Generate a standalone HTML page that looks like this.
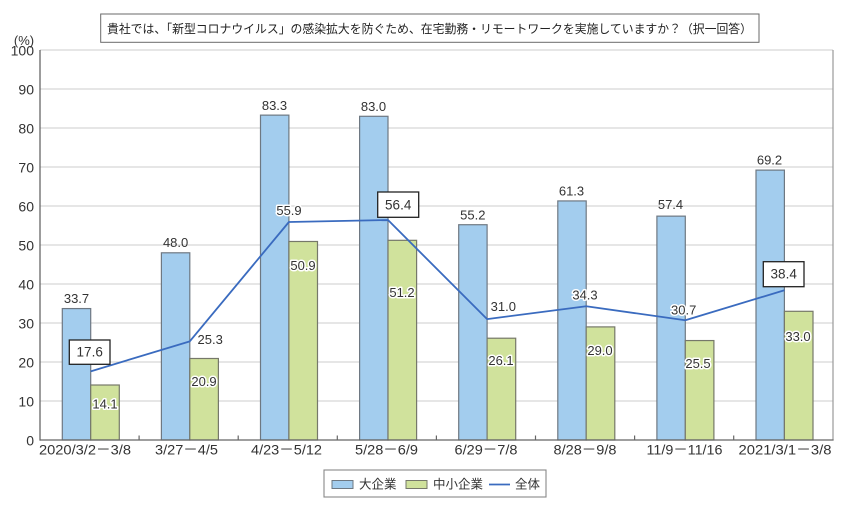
<!DOCTYPE html>
<html><head><meta charset="utf-8">
<style>
html,body{margin:0;padding:0;background:#fff;}
svg{display:block;}
text{font-family:"Liberation Sans","Noto Sans CJK JP",sans-serif;fill:#333;}
.v{font-size:13px;text-anchor:middle;}
.h{stroke:#fff;stroke-width:3px;paint-order:stroke;stroke-linejoin:round;}
.yl{font-size:14px;text-anchor:end;}
.xl{font-size:14px;text-anchor:middle;}
.lg{font-size:12.5px;}
</style></head>
<body>
<svg width="848" height="512" viewBox="0 0 848 512" xmlns="http://www.w3.org/2000/svg">
<rect width="848" height="512" fill="#fff"/>
<!-- title -->
<rect x="100.7" y="14" width="658.3" height="28.3" fill="#fff" stroke="#6a6a6a" stroke-width="1"/>
<text x="107" y="33" font-size="12px" textLength="645" lengthAdjust="spacingAndGlyphs" style="fill:#222">貴社では、「新型コロナウイルス」の感染拡大を防ぐため、在宅勤務・リモートワークを実施していますか？（択一回答）</text>

<!-- gridlines -->
<g stroke="#d6d6d6" stroke-width="1.3">
<line x1="40" y1="50" x2="833" y2="50"/>
<line x1="40" y1="89" x2="833" y2="89"/>
<line x1="40" y1="128" x2="833" y2="128"/>
<line x1="40" y1="167" x2="833" y2="167"/>
<line x1="40" y1="206" x2="833" y2="206"/>
<line x1="40" y1="245" x2="833" y2="245"/>
<line x1="40" y1="284" x2="833" y2="284"/>
<line x1="40" y1="323" x2="833" y2="323"/>
<line x1="40" y1="362" x2="833" y2="362"/>
<line x1="40" y1="401" x2="833" y2="401"/>
</g>
<line x1="833" y1="50" x2="833" y2="440" stroke="#9a9a9a" stroke-width="1.2"/>

<!-- y labels -->
<text x="24" y="45" font-size="13px" text-anchor="middle">(%)</text>
<text class="yl" x="34" y="55.5">100</text>
<text class="yl" x="34" y="94.5">90</text>
<text class="yl" x="34" y="133.5">80</text>
<text class="yl" x="34" y="172.5">70</text>
<text class="yl" x="34" y="211.5">60</text>
<text class="yl" x="34" y="250.5">50</text>
<text class="yl" x="34" y="289.5">40</text>
<text class="yl" x="34" y="328.5">30</text>
<text class="yl" x="34" y="367.5">20</text>
<text class="yl" x="34" y="406.5">10</text>
<text class="yl" x="34" y="445.5">0</text>

<!-- blue bars -->
<g fill="#a3cdee" stroke="#6e7882" stroke-width="1.2">
<rect x="62.3" y="308.57" width="28.4" height="131.43"/>
<rect x="161.4" y="252.8" width="28.4" height="187.2"/>
<rect x="260.5" y="115.13" width="28.4" height="324.87"/>
<rect x="359.6" y="116.3" width="28.4" height="323.7"/>
<rect x="458.7" y="224.72" width="28.4" height="215.28"/>
<rect x="557.8" y="200.93" width="28.4" height="239.07"/>
<rect x="656.9" y="216.14" width="28.4" height="223.86"/>
<rect x="756.0" y="170.12" width="28.4" height="269.88"/>
</g>
<!-- green bars -->
<g fill="#d0e29c" stroke="#76786a" stroke-width="1.2">
<rect x="90.7" y="385.01" width="28.6" height="54.99"/>
<rect x="189.8" y="358.49" width="28.6" height="81.51"/>
<rect x="288.9" y="241.49" width="28.6" height="198.51"/>
<rect x="388.0" y="240.32" width="28.6" height="199.68"/>
<rect x="487.1" y="338.21" width="28.6" height="101.79"/>
<rect x="586.2" y="326.9" width="28.6" height="113.1"/>
<rect x="685.3" y="340.55" width="28.6" height="99.45"/>
<rect x="784.4" y="311.3" width="28.6" height="128.7"/>
</g>

<!-- axes -->
<line x1="40" y1="50" x2="40" y2="440.6" stroke="#666" stroke-width="1.3"/>
<line x1="40" y1="440" x2="833.6" y2="440" stroke="#666" stroke-width="1.3"/>
<g stroke="#666" stroke-width="1.2">
<line x1="139.1" y1="435.5" x2="139.1" y2="440"/>
<line x1="238.2" y1="435.5" x2="238.2" y2="440"/>
<line x1="337.3" y1="435.5" x2="337.3" y2="440"/>
<line x1="436.4" y1="435.5" x2="436.4" y2="440"/>
<line x1="535.5" y1="435.5" x2="535.5" y2="440"/>
<line x1="634.6" y1="435.5" x2="634.6" y2="440"/>
<line x1="733.7" y1="435.5" x2="733.7" y2="440"/>
</g>

<!-- line series -->
<polyline fill="none" stroke="#3a6bbf" stroke-width="1.8" stroke-linejoin="round"
 points="90.7,371.36 189.8,341.33 288.9,221.99 388.0,220.04 487.1,319.1 586.2,306.23 685.3,320.27 784.4,290.24"/>

<!-- blue labels -->
<text class="v" x="76.5" y="302.8">33.7</text>
<text class="v" x="175.6" y="247">48.0</text>
<text class="v" x="274.5" y="109.8">83.3</text>
<text class="v" x="373.5" y="110.8">83.0</text>
<text class="v" x="472.8" y="219.6">55.2</text>
<text class="v" x="571.5" y="195.5">61.3</text>
<text class="v" x="670.5" y="208.8">57.4</text>
<text class="v" x="769.5" y="164.3">69.2</text>

<!-- green labels -->
<text class="v h" x="105" y="408.5">14.1</text>
<text class="v h" x="204" y="386">20.9</text>
<text class="v h" x="303" y="270">50.9</text>
<text class="v h" x="402" y="297">51.2</text>
<text class="v h" x="501" y="365">26.1</text>
<text class="v h" x="600" y="355">29.0</text>
<text class="v h" x="698" y="368">25.5</text>
<text class="v h" x="798" y="341">33.0</text>

<!-- line labels -->
<text class="v h" x="210.2" y="344">25.3</text>
<text class="v h" x="289" y="215">55.9</text>
<text class="v h" x="503.3" y="311">31.0</text>
<text class="v h" x="585" y="299.5">34.3</text>
<text class="v h" x="683.7" y="314.5">30.7</text>

<!-- boxed labels -->
<rect x="69.3" y="340" width="40.7" height="24.3" fill="#fff" stroke="#222" stroke-width="1.3"/>
<text class="v" x="89.7" y="356.7" style="font-size:13.5px">17.6</text>
<rect x="377.7" y="192" width="41" height="25.3" fill="#fff" stroke="#222" stroke-width="1.3"/>
<text class="v" x="398.2" y="209.5" style="font-size:13.5px">56.4</text>
<rect x="763.3" y="261.7" width="40.7" height="25" fill="#fff" stroke="#222" stroke-width="1.3"/>
<text class="v" x="783.7" y="278.7" style="font-size:13.5px">38.4</text>

<!-- x labels -->
<text class="xl" x="85" y="454.5" textLength="92" lengthAdjust="spacingAndGlyphs">2020/3/2－3/8</text>
<text class="xl" x="186.5" y="454.5" textLength="63" lengthAdjust="spacingAndGlyphs">3/27－4/5</text>
<text class="xl" x="286.5" y="454.5" textLength="71" lengthAdjust="spacingAndGlyphs">4/23－5/12</text>
<text class="xl" x="386.5" y="454.5" textLength="63" lengthAdjust="spacingAndGlyphs">5/28－6/9</text>
<text class="xl" x="486" y="454.5" textLength="63" lengthAdjust="spacingAndGlyphs">6/29－7/8</text>
<text class="xl" x="585" y="454.5" textLength="63" lengthAdjust="spacingAndGlyphs">8/28－9/8</text>
<text class="xl" x="684.5" y="454.5" textLength="76" lengthAdjust="spacingAndGlyphs">11/9－11/16</text>
<text class="xl" x="785" y="454.5" textLength="93" lengthAdjust="spacingAndGlyphs">2021/3/1－3/8</text>

<!-- legend -->
<rect x="324" y="470" width="222" height="27" fill="#fff" stroke="#888" stroke-width="1.1"/>
<rect x="332" y="480.5" width="21" height="8" fill="#a3cdee" stroke="#6e7882" stroke-width="1"/>
<text class="lg" x="359" y="488.7">大企業</text>
<rect x="406" y="480.5" width="21" height="8" fill="#d0e29c" stroke="#76786a" stroke-width="1"/>
<text class="lg" x="433" y="488.7">中小企業</text>
<line x1="489" y1="484.5" x2="510" y2="484.5" stroke="#3a6bbf" stroke-width="1.8"/>
<text class="lg" x="515" y="488.7">全体</text>
</svg>
</body></html>
